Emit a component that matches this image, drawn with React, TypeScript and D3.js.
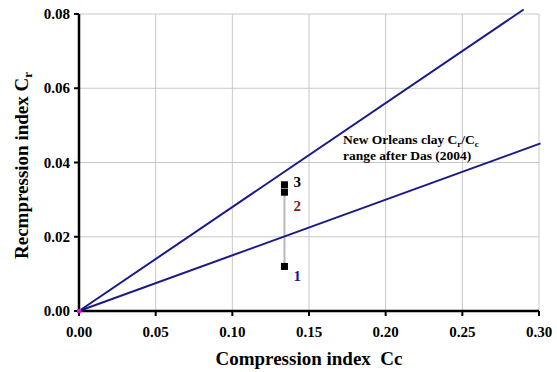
import React from "react";
import * as d3 from "d3";

const xTicks = [0, 0.05, 0.1, 0.15, 0.2, 0.25, 0.3];
const yTicks = [0, 0.02, 0.04, 0.06, 0.08];
const ratioUpper = 0.28;
const ratioLower = 0.15;
const upperEndCc = 0.29;
const lowerEndCc = 0.301;
const pointCc = [0.134, 0.134, 0.134];
const pointCr = [0.034, 0.032, 0.012];
const pointLabels = ["3", "2", "1"];
const labelCr = [0.0333, 0.0269, 0.0080];
const labelColors = ["#000000", "#8b1a1a", "#1a1a8b"];

export default function App() {
  const W = 557, H = 372;
  const m = { l: 79, r: 18, t: 14, b: 61 };
  const x = d3.scaleLinear().domain([0, 0.3]).range([m.l, W - m.r]);
  const y = d3.scaleLinear().domain([0, 0.08]).range([H - m.b, m.t]);
  const font = "'Liberation Serif', 'Times New Roman', serif";
  const line = d3.line<[number, number]>().x(d => x(d[0])).y(d => y(d[1]));
  const upper: [number, number][] = [[0, 0], [upperEndCc, upperEndCc * ratioUpper]];
  const lower: [number, number][] = [[0, 0], [lowerEndCc, lowerEndCc * ratioLower]];
  return (
    <svg width={W} height={H} style={{ position: "absolute", left: 0, top: 0 }} fontFamily={font}>
      <rect width={W} height={H} fill="#fff" />
      {xTicks.slice(1).map(t => (
        <line key={"gx" + t} x1={x(t)} x2={x(t)} y1={y(0)} y2={y(0.08)} stroke="#c8c8c8" strokeWidth={1} />
      ))}
      {yTicks.slice(1).map(t => (
        <line key={"gy" + t} x1={x(0)} x2={x(0.3)} y1={y(t)} y2={y(t)} stroke="#c8c8c8" strokeWidth={1} />
      ))}
      <line x1={x(pointCc[1])} x2={x(pointCc[2])} y1={y(pointCr[1])} y2={y(pointCr[2])} stroke="#b8b8b8" strokeWidth={2} />
      <path d={line(upper) || ""} stroke="#1a1a8b" strokeWidth={2} fill="none" />
      <path d={line(lower) || ""} stroke="#1a1a8b" strokeWidth={2} fill="none" />
      <line x1={x(0)} x2={x(0.3)} y1={y(0)} y2={y(0)} stroke="#000" strokeWidth={2.5} />
      <line x1={x(0)} x2={x(0)} y1={y(0)} y2={y(0.08)} stroke="#000" strokeWidth={2.5} />
      {xTicks.map(t => (
        <g key={"tx" + t}>
          <line x1={x(t)} x2={x(t)} y1={y(0)} y2={y(0) + 5} stroke="#000" strokeWidth={2} />
          <text x={x(t)} y={y(0) + 26} textAnchor="middle" fontSize={15} fontWeight="bold">{d3.format(".2f")(t)}</text>
        </g>
      ))}
      {yTicks.map(t => (
        <g key={"ty" + t}>
          <line x1={x(0) - 5} x2={x(0)} y1={y(t)} y2={y(t)} stroke="#000" strokeWidth={2} />
          <text x={x(0) - 9} y={y(t) + 5} textAnchor="end" fontSize={15} fontWeight="bold">{d3.format(".2f")(t)}</text>
        </g>
      ))}
      <rect x={x(0) - 2} y={y(0) - 2} width={4} height={4} fill="#ff00ff" />
      {pointCc.map((c, i) => (
        <rect key={"p" + i} x={x(c) - 3.5} y={y(pointCr[i]) - 3.5} width={7} height={7} fill="#000" />
      ))}
      {pointLabels.map((lab, i) => (
        <text key={"l" + i} x={x(pointCc[i]) + 9} y={y(labelCr[i])} fontSize={15} fontWeight="bold" fill={labelColors[i]}>{lab}</text>
      ))}
      <text x={343} y={144} fontSize={13.5} fontWeight="bold">
        New Orleans clay C<tspan fontSize={9} dy={3}>r</tspan><tspan dy={-3}>/C</tspan><tspan fontSize={9} dy={3}>c</tspan>
      </text>
      <text x={343} y={160} fontSize={13.5} fontWeight="bold">range after Das (2004)</text>
      <text x={309} y={365} textAnchor="middle" fontSize={19} fontWeight="bold" xmlSpace="preserve">Compression index  Cc</text>
      <text transform={`translate(28, 259) rotate(-90)`} textAnchor="start" fontSize={19} fontWeight="bold">
        Recmpression index C<tspan fontSize={13} dy={4}>r</tspan>
      </text>
    </svg>
  );
}
